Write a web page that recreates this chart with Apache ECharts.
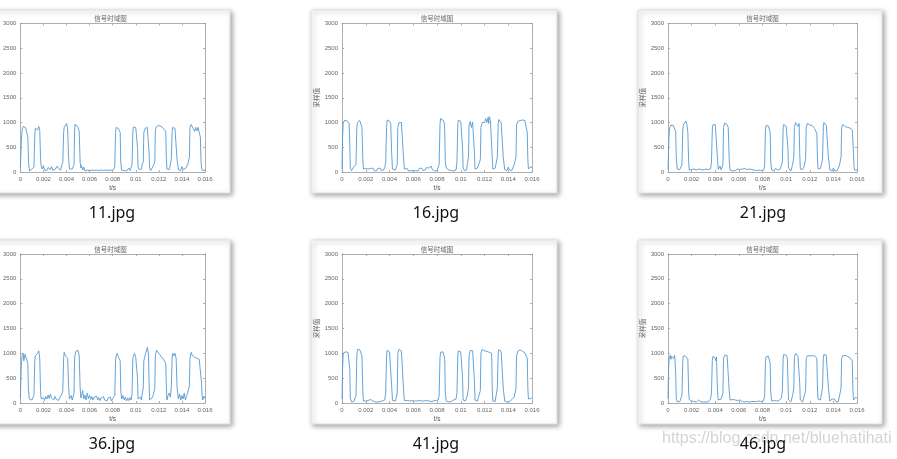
<!DOCTYPE html>
<html><head><meta charset="utf-8">
<script src="https://cdn.jsdelivr.net/npm/echarts@6/dist/echarts.min.js"></script>
<style>html,body{margin:0;padding:0;background:#fff}#c{width:897px;height:459px}</style>
</head><body><div id="c"></div>
<script>
var fileNames = ['11.jpg','16.jpg','21.jpg','36.jpg','41.jpg','46.jpg'];
var chartTitle = '信号时域图';
var xName = 't/s';
var yName = '采样值';
var yTicks = [0, 3000, 500];
var xTicks = [0, 0.016, 0.002];
var watermark = 'https://blog.csdn.net/bluehatihati';

var s11 = [[0,80],[0.00008,600],[0.00015,850],[0.00025,920],[0.00035,930],[0.00045,900],[0.00055,880],[0.00065,700],[0.00072,150],[0.0008,20],[0.0009,40],[0.001,60],[0.0011,30],
[0.00118,100],[0.00125,750],[0.0013,880],[0.0014,860],[0.00145,900],[0.0015,850],[0.0016,920],[0.00168,850],[0.00175,300],[0.0018,120],[0.0019,60],[0.002,130],[0.0021,40],[0.0022,70],[0.0023,30],[0.0024,90],[0.0025,60],[0.0026,50],[0.0027,110],[0.0028,40],[0.0029,80],[0.003,50],[0.0031,60],[0.0032,120],[0.0033,70],[0.0034,90],[0.0035,40],[0.0036,150],
[0.00368,200],[0.00375,800],[0.0038,900],[0.0039,920],[0.004,980],[0.00405,930],[0.0041,850],[0.00418,300],[0.00425,60],[0.0044,80],[0.0045,60],
[0.00465,150],[0.0047,850],[0.00475,970],[0.0048,940],[0.0049,960],[0.005,900],[0.0051,820],[0.00518,200],[0.00525,80],[0.0053,130],[0.0054,40],[0.0055,100],[0.0056,20],[0.0057,60],[0.0058,40],[0.0059,50],[0.006,30],[0.0061,60],[0.0062,40],[0.0063,70],[0.0064,30],[0.0065,50],[0.0066,40],[0.0067,80],[0.0068,30],[0.0069,60],[0.007,40],[0.0071,50],[0.0072,30],[0.0073,70],[0.0074,40],[0.0075,60],[0.0076,30],[0.0077,50],[0.0078,40],[0.0079,80],[0.008,30],[0.0081,60],
[0.00818,100],[0.00825,800],[0.0083,900],[0.0084,940],[0.0085,880],[0.0086,920],[0.00865,800],[0.0087,200],[0.00878,40],[0.0089,70],[0.009,30],[0.0091,60],[0.0092,20],[0.0093,50],[0.0094,80],[0.0095,30],[0.0096,60],
[0.00968,150],[0.00975,820],[0.0098,910],[0.0099,890],[0.01,900],[0.0101,860],[0.01015,500],[0.0102,100],[0.0103,50],[0.0104,20],[0.0105,60],[0.01055,150],
[0.01065,200],[0.0107,800],[0.0108,880],[0.0109,920],[0.011,900],[0.0111,880],[0.01115,400],[0.0112,80],[0.0113,30],[0.0114,60],[0.0115,120],
[0.01165,200],[0.0117,850],[0.0118,920],[0.0119,900],[0.012,940],[0.0121,960],[0.0122,920],[0.0123,930],[0.0124,880],[0.0125,880],[0.0126,820],[0.01265,300],[0.0127,60],[0.0128,20],[0.0129,50],[0.013,80],
[0.01308,250],[0.01315,820],[0.0132,900],[0.0133,930],[0.0134,880],[0.0135,850],[0.01358,250],[0.0137,40],[0.0138,80],[0.0139,30],[0.014,110],[0.0141,50],[0.0142,20],[0.0143,70],[0.0144,40],[0.0145,150],
[0.01465,300],[0.0147,900],[0.0148,960],[0.0149,930],[0.015,870],[0.0151,820],[0.0152,900],[0.0153,830],[0.0154,900],[0.0155,880],[0.0156,700],[0.01565,250],[0.0157,80],[0.0158,30],[0.0159,50],[0.016,40]];

var s16 = [[0,60],[0.00005,700],[0.0001,980],[0.0002,1040],[0.0003,1000],[0.0004,1040],[0.0005,1010],[0.0006,980],[0.00065,600],[0.0007,80],[0.0008,30],[0.0009,60],[0.001,110],[0.0011,130],
[0.00118,150],[0.00125,900],[0.0013,1000],[0.0014,1020],[0.0015,1040],[0.0016,1000],[0.00168,900],[0.00175,250],[0.0018,60],[0.0019,40],[0.002,70],[0.0021,30],[0.0022,60],[0.0023,20],[0.0024,70],[0.0025,40],[0.0026,80],[0.0027,30],[0.0028,60],[0.0029,20],[0.003,70],[0.0031,50],[0.0032,80],[0.0033,30],[0.0034,60],[0.0035,40],[0.0036,90],
[0.00368,200],[0.00375,900],[0.0038,1050],[0.0039,1010],[0.004,1030],[0.0041,980],[0.00418,400],[0.00425,60],[0.0044,100],[0.0045,40],
[0.00465,150],[0.0047,900],[0.0048,1000],[0.0049,1040],[0.005,1000],[0.0051,1030],[0.00518,300],[0.00525,60],[0.0054,40],[0.0055,70],[0.0056,20],[0.0057,60],[0.0058,30],[0.0059,50],[0.006,20],[0.0061,60],[0.0062,30],[0.0063,50],[0.0064,20],[0.0065,70],[0.0066,40],[0.0067,80],[0.0068,30],[0.0069,70],[0.007,40],[0.0071,90],[0.0072,50],[0.0073,80],[0.0074,40],[0.0075,120],[0.0076,50],[0.0077,70],[0.0078,20],[0.0079,60],[0.008,30],[0.0081,50],
[0.00818,150],[0.00825,950],[0.0083,1080],[0.0084,1040],[0.0085,1050],[0.0086,1000],[0.00865,850],[0.0087,200],[0.00878,80],[0.0089,90],[0.009,40],[0.0091,80],[0.0092,30],[0.0093,50],[0.0094,20],[0.0095,60],[0.0096,40],
[0.00968,200],[0.00975,950],[0.0098,1050],[0.0099,1070],[0.01,1020],[0.0101,1000],[0.01015,500],[0.0102,80],[0.0103,30],[0.0104,60],[0.0105,40],[0.01055,150],
[0.01065,300],[0.0107,950],[0.0108,1020],[0.0109,900],[0.011,1010],[0.0111,980],[0.01115,400],[0.0112,60],[0.0113,30],[0.0114,80],[0.0115,40],
[0.01165,250],[0.0117,900],[0.0118,1000],[0.0119,1040],[0.012,1000],[0.0121,1080],[0.0122,1000],[0.0123,1100],[0.01235,980],[0.0124,1120],[0.0125,1040],[0.0126,1000],[0.01265,300],[0.0127,60],[0.0128,30],[0.0129,80],[0.013,40],
[0.01308,300],[0.01315,950],[0.0132,1060],[0.0133,1040],[0.0134,1000],[0.0135,980],[0.01358,300],[0.0137,50],[0.0138,80],[0.0139,30],[0.014,100],[0.0141,40],[0.0142,70],[0.0143,30],[0.0144,60],[0.0145,150],
[0.01465,300],[0.0147,950],[0.0148,1020],[0.0149,1000],[0.015,1040],[0.0151,1000],[0.0152,1050],[0.0153,1020],[0.0154,1040],[0.0155,1000],[0.0156,800],[0.01565,250],[0.0157,60],[0.0158,40],[0.0159,110],[0.016,80]];

var s21 = [[0,50],[0.00008,700],[0.00015,900],[0.00025,950],[0.00035,960],[0.00045,940],[0.00055,900],[0.00065,820],[0.0007,300],[0.00078,60],[0.0009,30],[0.001,50],[0.0011,40],
[0.00118,150],[0.00125,850],[0.0013,950],[0.0014,980],[0.0015,1030],[0.0016,960],[0.00168,800],[0.00175,200],[0.0018,40],[0.0019,20],[0.002,50],[0.0021,30],[0.0022,60],[0.0023,20],[0.0024,40],[0.0025,30],[0.0026,60],[0.0027,20],[0.0028,50],[0.0029,30],[0.003,40],[0.0031,20],[0.0032,60],[0.0033,30],[0.0034,50],[0.0035,20],[0.0036,60],
[0.00368,200],[0.00375,850],[0.0038,950],[0.0039,940],[0.004,960],[0.0041,920],[0.00418,300],[0.00425,50],[0.0044,120],[0.0045,40],
[0.00465,150],[0.0047,900],[0.0048,990],[0.0049,950],[0.005,960],[0.0051,900],[0.00518,250],[0.00525,40],[0.0054,60],[0.0055,20],[0.0056,50],[0.0057,30],[0.0058,40],[0.0059,60],[0.006,20],[0.0061,50],[0.0062,30],[0.0063,60],[0.0064,40],[0.0065,70],[0.0066,30],[0.0067,50],[0.0068,40],[0.0069,60],[0.007,30],[0.0071,50],[0.0072,20],[0.0073,40],[0.0074,10],[0.0075,30],[0.0076,20],[0.0077,40],[0.0078,10],[0.0079,30],[0.008,20],[0.0081,40],
[0.00818,120],[0.00825,850],[0.0083,940],[0.0084,960],[0.0085,930],[0.0086,900],[0.00865,800],[0.0087,200],[0.00878,40],[0.0089,60],[0.009,20],[0.0091,70],[0.0092,30],[0.0093,40],[0.0094,20],[0.0095,60],[0.0096,40],
[0.00968,200],[0.00975,900],[0.0098,960],[0.0099,940],[0.01,920],[0.0101,900],[0.01015,500],[0.0102,80],[0.0103,40],[0.0104,20],[0.0105,60],[0.01055,150],
[0.01065,300],[0.0107,900],[0.0108,1000],[0.0109,960],[0.011,920],[0.0111,980],[0.01115,400],[0.0112,60],[0.0113,30],[0.0114,50],[0.0115,100],
[0.01165,250],[0.0117,900],[0.0118,980],[0.0119,960],[0.012,950],[0.0121,980],[0.0122,940],[0.0123,920],[0.0124,880],[0.0125,850],[0.0126,780],[0.01265,300],[0.0127,60],[0.0128,40],[0.0129,70],[0.013,50],
[0.01308,250],[0.01315,900],[0.0132,1000],[0.0133,970],[0.0134,940],[0.0135,930],[0.01358,300],[0.0137,40],[0.0138,60],[0.0139,20],[0.014,80],[0.0141,30],[0.0142,50],[0.0143,20],[0.0144,40],[0.0145,120],
[0.01465,300],[0.0147,900],[0.0148,960],[0.0149,940],[0.015,920],[0.0151,910],[0.0152,900],[0.0153,880],[0.0154,890],[0.0155,870],[0.0156,850],[0.0157,400],[0.01575,100],[0.0158,40],[0.0159,60],[0.016,40]];

var s36 = [[0,100],[0.00008,750],[0.00015,950],[0.00025,1000],[0.0003,850],[0.0004,980],[0.00045,1000],[0.00055,950],[0.00065,800],[0.0007,250],[0.00078,80],[0.0009,120],[0.001,60],[0.0011,90],
[0.00118,150],[0.00125,850],[0.0013,950],[0.0014,920],[0.0015,1000],[0.0016,1050],[0.00168,900],[0.00175,250],[0.0018,80],[0.0019,40],[0.002,110],[0.0021,50],[0.0022,130],[0.0023,80],[0.0024,160],[0.0025,90],[0.0026,180],[0.0027,100],[0.0028,140],[0.0029,60],[0.003,130],[0.0031,80],[0.0032,120],[0.0033,50],[0.0034,100],[0.0035,60],[0.0036,180],
[0.00368,250],[0.00375,900],[0.0038,1020],[0.0039,950],[0.004,980],[0.0041,900],[0.00418,350],[0.00425,80],[0.0044,150],[0.0045,60],
[0.00465,200],[0.0047,900],[0.0048,1040],[0.0049,1000],[0.005,1060],[0.0051,950],[0.00518,300],[0.00525,100],[0.0054,250],[0.0055,80],[0.0056,160],[0.0057,60],[0.0058,200],[0.0059,90],[0.006,150],[0.0061,70],[0.0062,130],[0.0063,60],[0.0064,120],[0.0065,80],[0.0066,140],[0.0067,60],[0.0068,110],[0.0069,50],[0.007,100],[0.0071,70],[0.0072,130],[0.0073,60],[0.0074,90],[0.0075,40],[0.0076,100],[0.0077,60],[0.0078,120],[0.0079,40],[0.008,90],[0.0081,60],
[0.00818,150],[0.00825,850],[0.0083,950],[0.0084,1000],[0.0085,920],[0.0086,950],[0.00865,850],[0.0087,250],[0.00878,80],[0.0089,150],[0.009,60],[0.0091,120],[0.0092,40],[0.0093,100],[0.0094,50],[0.0095,110],[0.0096,60],
[0.00968,200],[0.00975,900],[0.0098,950],[0.0099,1000],[0.01,920],[0.0101,960],[0.01015,500],[0.0102,80],[0.0103,40],[0.0104,120],[0.0105,60],[0.01055,180],
[0.01065,300],[0.0107,850],[0.0108,950],[0.0109,1020],[0.011,1120],[0.0111,1000],[0.01115,450],[0.0112,60],[0.0113,30],[0.0114,100],[0.0115,150],
[0.01165,300],[0.0117,950],[0.0118,1060],[0.0119,1040],[0.012,1000],[0.0121,980],[0.0122,940],[0.0123,920],[0.0124,880],[0.0125,850],[0.0126,800],[0.01265,350],[0.0127,60],[0.0128,150],[0.0129,200],[0.013,120],
[0.01308,300],[0.01315,900],[0.0132,1000],[0.0133,950],[0.0134,1000],[0.0135,900],[0.01358,300],[0.0137,80],[0.0138,180],[0.0139,60],[0.014,150],[0.0141,80],[0.0142,200],[0.0143,60],[0.0144,150],[0.0145,200],
[0.01465,350],[0.0147,900],[0.0148,1020],[0.0149,960],[0.015,1000],[0.0151,920],[0.0152,960],[0.0153,900],[0.0154,920],[0.0155,880],[0.0156,850],[0.0157,400],[0.01575,150],[0.0158,60],[0.0159,140],[0.016,90]];

var s41 = [[0,80],[0.00005,700],[0.0001,1000],[0.0002,1040],[0.0003,1030],[0.0004,1040],[0.0005,1020],[0.0006,1000],[0.00065,700],[0.0007,100],[0.0008,20],[0.0009,40],[0.001,30],[0.0011,60],
[0.00118,150],[0.00125,950],[0.0013,1080],[0.0014,1090],[0.0015,1070],[0.0016,1060],[0.00168,950],[0.00175,250],[0.0018,40],[0.0019,20],[0.002,40],[0.0021,30],[0.0022,50],[0.0023,40],[0.0024,70],[0.0025,60],[0.0026,40],[0.0027,30],[0.0028,20],[0.0029,30],[0.003,20],[0.0031,40],[0.0032,30],[0.0033,20],[0.0034,40],[0.0035,30],[0.0036,60],
[0.00368,200],[0.00375,950],[0.0038,1060],[0.0039,1040],[0.004,1030],[0.0041,1000],[0.00418,350],[0.00425,50],[0.0044,30],[0.0045,40],
[0.00465,200],[0.0047,1000],[0.0048,1080],[0.0049,1070],[0.005,1050],[0.0051,1020],[0.00518,300],[0.00525,50],[0.0054,40],[0.0055,50],[0.0056,30],[0.0057,40],[0.0058,30],[0.0059,50],[0.006,30],[0.0061,40],[0.0062,20],[0.0063,40],[0.0064,30],[0.0065,50],[0.0066,30],[0.0067,40],[0.0068,20],[0.0069,40],[0.007,30],[0.0071,50],[0.0072,30],[0.0073,40],[0.0074,20],[0.0075,30],[0.0076,20],[0.0077,40],[0.0078,30],[0.0079,50],[0.008,20],[0.0081,60],
[0.00818,150],[0.00825,900],[0.0083,1020],[0.0084,1050],[0.0085,1030],[0.0086,1040],[0.00865,900],[0.0087,200],[0.00878,40],[0.0089,30],[0.009,20],[0.0091,40],[0.0092,30],[0.0093,50],[0.0094,60],[0.0095,40],[0.0096,80],
[0.00968,200],[0.00975,950],[0.0098,1050],[0.0099,1040],[0.01,1030],[0.0101,1000],[0.01015,500],[0.0102,60],[0.0103,30],[0.0104,40],[0.0105,60],[0.01055,150],
[0.01065,300],[0.0107,950],[0.0108,1060],[0.0109,1070],[0.011,1050],[0.0111,1060],[0.01115,450],[0.0112,60],[0.0113,30],[0.0114,40],[0.0115,80],
[0.01165,250],[0.0117,1000],[0.0118,1080],[0.0119,1070],[0.012,1050],[0.0121,1060],[0.0122,1040],[0.0123,1030],[0.0124,1020],[0.0125,1040],[0.0126,1000],[0.01265,300],[0.0127,40],[0.0128,20],[0.0129,30],[0.013,60],
[0.01308,300],[0.01315,980],[0.0132,1070],[0.0133,1060],[0.0134,1040],[0.0135,1000],[0.01358,300],[0.0137,40],[0.0138,30],[0.0139,20],[0.014,40],[0.0141,30],[0.0142,50],[0.0143,70],[0.0144,80],[0.0145,120],
[0.01465,300],[0.0147,950],[0.0148,1040],[0.0149,1050],[0.015,1070],[0.0151,1030],[0.0152,1040],[0.0153,1020],[0.0154,1010],[0.0155,1000],[0.0156,900],[0.01565,300],[0.0157,80],[0.0158,40],[0.0159,90],[0.016,110]];

var s46 = [[0,90],[0.00005,700],[0.0001,900],[0.0002,960],[0.00025,880],[0.0003,940],[0.0004,950],[0.0005,900],[0.00055,960],[0.0006,850],[0.00065,600],[0.0007,80],[0.0008,20],[0.0009,40],[0.001,30],[0.0011,60],
[0.00118,150],[0.00125,850],[0.0013,950],[0.0014,960],[0.0015,940],[0.0016,960],[0.00168,880],[0.00175,200],[0.0018,70],[0.0019,60],[0.002,40],[0.0021,60],[0.0022,30],[0.0023,50],[0.0024,20],[0.0025,40],[0.0026,60],[0.0027,30],[0.0028,20],[0.0029,40],[0.003,20],[0.0031,30],[0.0032,20],[0.0033,40],[0.0034,20],[0.0035,30],[0.0036,80],
[0.00368,200],[0.00375,850],[0.0038,940],[0.0039,920],[0.004,900],[0.00405,850],[0.0041,930],[0.00418,300],[0.00425,60],[0.0044,30],[0.0045,80],
[0.00465,200],[0.0047,900],[0.0048,960],[0.0049,950],[0.005,960],[0.0051,920],[0.00518,250],[0.00525,60],[0.0054,40],[0.0055,70],[0.0056,30],[0.0057,60],[0.0058,20],[0.0059,50],[0.006,30],[0.0061,60],[0.0062,40],[0.0063,30],[0.0064,50],[0.0065,20],[0.0066,40],[0.0067,30],[0.0068,50],[0.0069,20],[0.007,40],[0.0071,30],[0.0072,20],[0.0073,30],[0.0074,10],[0.0075,30],[0.0076,20],[0.0077,40],[0.0078,20],[0.0079,30],[0.008,20],[0.0081,50],
[0.00818,150],[0.00825,850],[0.0083,930],[0.0084,920],[0.0085,940],[0.0086,900],[0.00865,800],[0.0087,200],[0.00878,40],[0.0089,30],[0.009,50],[0.0091,30],[0.0092,40],[0.0093,20],[0.0094,50],[0.0095,60],[0.0096,100],
[0.00968,250],[0.00975,900],[0.0098,980],[0.0099,950],[0.01,960],[0.0101,900],[0.01015,500],[0.0102,60],[0.0103,30],[0.0104,20],[0.0105,40],[0.01055,150],
[0.01065,300],[0.0107,920],[0.0108,1000],[0.0109,980],[0.011,940],[0.0111,960],[0.01115,400],[0.0112,60],[0.0113,30],[0.0114,20],[0.0115,60],
[0.01165,250],[0.0117,900],[0.0118,950],[0.0119,960],[0.012,950],[0.0121,940],[0.0122,950],[0.0123,940],[0.0124,950],[0.0125,940],[0.0126,900],[0.01265,300],[0.0127,80],[0.0128,70],[0.0129,60],[0.013,90],
[0.01308,300],[0.01315,900],[0.0132,980],[0.0133,990],[0.0134,960],[0.0135,930],[0.01358,300],[0.0137,40],[0.0138,20],[0.0139,80],[0.014,60],[0.0141,80],[0.0142,30],[0.0143,40],[0.0144,20],[0.0145,120],
[0.01465,300],[0.0147,900],[0.0148,950],[0.0149,940],[0.015,960],[0.0151,950],[0.0152,940],[0.0153,920],[0.0154,910],[0.0155,900],[0.0156,850],[0.01565,300],[0.0157,60],[0.0158,40],[0.0159,120],[0.016,90]];

var seriesData = [s11, s16, s21, s36, s41, s46];

// layout
var colPlot = [[16,205],[342,532],[668,857]];
var rowPlot = [[23.5,172],[254,403]];
var colCard = [[-10,230],[311,557],[638,882]];
var rowCard = [[10,193],[240,424]];
var labelX = [112,436,763];
var labelY = [213,444];

var chart = echarts.init(document.getElementById('c'), null, {renderer:'canvas'});
var grids=[], xAxes=[], yAxes=[], series=[], graphics=[];
var fontFam = 'Liberation Sans, Arial, sans-serif';
var axisCol = '#9a9a9a';
function fmtNum(v){ return String(parseFloat(Number(v).toFixed(4))); }

// cards
for (var r=0;r<2;r++) for (var c=0;c<3;c++){
  graphics.push({type:'rect', z:0, shape:{x:colCard[c][0], y:rowCard[r][0], width:colCard[c][1]-colCard[c][0], height:rowCard[r][1]-rowCard[r][0]},
    style:{fill:'#fff', stroke:'#e2e2e2', lineWidth:1, shadowBlur:5, shadowOffsetX:2, shadowOffsetY:2, shadowColor:'rgba(0,0,0,0.35)'}});
}
graphics.push({type:'text', z:1, left:662, top:431, style:{text:watermark, fill:'#d4d4d4', font:'16px "Liberation Sans", Arial, sans-serif'}});

for (var i=0;i<6;i++){
  var r = Math.floor(i/3), c = i%3;
  var L = colPlot[c][0], R = colPlot[c][1], T = rowPlot[r][0], B = rowPlot[r][1];
  grids.push({left:L, top:T, width:R-L, height:B-T, show:false, containLabel:false});
  var tick = {show:true, inside:true, length:2, lineStyle:{color:axisCol, width:0.8}};
  var line = {show:true, onZero:false, lineStyle:{color:axisCol, width:0.8}};
  xAxes.push({type:'value', gridIndex:i, position:'bottom', min:xTicks[0], max:xTicks[1], interval:xTicks[2],
    name:xName, nameLocation:'middle', nameGap:13, nameTextStyle:{fontSize:6.5, color:'#555', fontFamily:fontFam},
    axisLine:line, axisTick:tick,
    axisLabel:{fontSize:6, color:'#666', margin:4, fontFamily:fontFam, formatter:fmtNum}, splitLine:{show:false}});
  xAxes.push({type:'value', gridIndex:i, position:'top', min:xTicks[0], max:xTicks[1], interval:xTicks[2],
    axisLine:line, axisTick:tick, axisLabel:{show:false}, splitLine:{show:false}});
  yAxes.push({type:'value', gridIndex:i, position:'left', min:yTicks[0], max:yTicks[1], interval:yTicks[2],
    name: c===0 ? '' : yName, nameLocation:'middle', nameGap:22, nameRotate:90, nameTextStyle:{fontSize:6.5, color:'#666', fontFamily:'Noto Sans CJK SC'},
    axisLine:line, axisTick:tick,
    axisLabel:{fontSize:6, color:'#666', margin:4, fontFamily:fontFam, formatter:fmtNum}, splitLine:{show:false}});
  yAxes.push({type:'value', gridIndex:i, position:'right', min:yTicks[0], max:yTicks[1], interval:yTicks[2],
    axisLine:line, axisTick:tick, axisLabel:{show:false}, splitLine:{show:false}});
  series.push({type:'line', xAxisIndex:2*i, yAxisIndex:2*i, data:seriesData[i], showSymbol:false, symbol:'none', silent:true, animation:false,
    lineStyle:{color:'#559ad2', width:0.9}});
  graphics.push({type:'text', z:5, x:(L+R)/2, y:T-4.5, style:{text:chartTitle, fill:'#666', font:'6.5px "Noto Sans CJK SC"', textAlign:'center', textVerticalAlign:'middle'}});
  graphics.push({type:'text', z:5, x:labelX[c], y:labelY[r], style:{text:fileNames[i], fill:'#111', font:'16px "Noto Sans", "DejaVu Sans", sans-serif', textAlign:'center', textVerticalAlign:'middle'}});
}

chart.setOption({animation:false, backgroundColor:'#fff', grid:grids, xAxis:xAxes, yAxis:yAxes, series:series, graphic:graphics});
</script>
</body></html>
